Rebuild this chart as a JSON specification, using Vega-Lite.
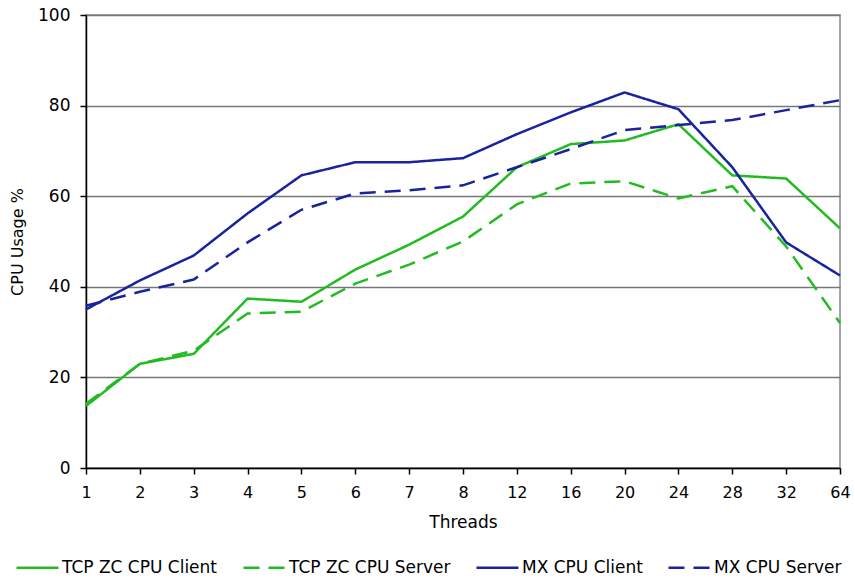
{
  "$schema": "https://vega.github.io/schema/vega-lite/v6.json",
  "autosize": {"type": "none"},
  "width": 754,
  "height": 453,
  "padding": {"left": 86, "top": 15, "right": 15, "bottom": 112},
  "background": "white",
  "config": {
    "font": "DejaVu Sans",
    "view": {"stroke": "#888888", "strokeWidth": 1.5}
  },
  "data": {
    "values": [
      {"t": "1", "s": "TCP ZC CPU Client", "v": 13.7},
      {"t": "2", "s": "TCP ZC CPU Client", "v": 23.0},
      {"t": "3", "s": "TCP ZC CPU Client", "v": 25.2},
      {"t": "4", "s": "TCP ZC CPU Client", "v": 37.4},
      {"t": "5", "s": "TCP ZC CPU Client", "v": 36.7},
      {"t": "6", "s": "TCP ZC CPU Client", "v": 43.8},
      {"t": "7", "s": "TCP ZC CPU Client", "v": 49.3},
      {"t": "8", "s": "TCP ZC CPU Client", "v": 55.5},
      {"t": "12", "s": "TCP ZC CPU Client", "v": 66.4},
      {"t": "16", "s": "TCP ZC CPU Client", "v": 71.5},
      {"t": "20", "s": "TCP ZC CPU Client", "v": 72.3},
      {"t": "24", "s": "TCP ZC CPU Client", "v": 75.9},
      {"t": "28", "s": "TCP ZC CPU Client", "v": 64.6},
      {"t": "32", "s": "TCP ZC CPU Client", "v": 63.9},
      {"t": "64", "s": "TCP ZC CPU Client", "v": 52.9},
      {"t": "1", "s": "TCP ZC CPU Server", "v": 14.2},
      {"t": "2", "s": "TCP ZC CPU Server", "v": 23.0},
      {"t": "3", "s": "TCP ZC CPU Server", "v": 25.9},
      {"t": "4", "s": "TCP ZC CPU Server", "v": 34.1},
      {"t": "5", "s": "TCP ZC CPU Server", "v": 34.5},
      {"t": "6", "s": "TCP ZC CPU Server", "v": 40.7},
      {"t": "7", "s": "TCP ZC CPU Server", "v": 44.9},
      {"t": "8", "s": "TCP ZC CPU Server", "v": 50.0},
      {"t": "12", "s": "TCP ZC CPU Server", "v": 58.2},
      {"t": "16", "s": "TCP ZC CPU Server", "v": 62.8},
      {"t": "20", "s": "TCP ZC CPU Server", "v": 63.3},
      {"t": "24", "s": "TCP ZC CPU Server", "v": 59.5},
      {"t": "28", "s": "TCP ZC CPU Server", "v": 62.2},
      {"t": "32", "s": "TCP ZC CPU Server", "v": 48.9},
      {"t": "64", "s": "TCP ZC CPU Server", "v": 32.0},
      {"t": "1", "s": "MX CPU Client", "v": 35.0},
      {"t": "2", "s": "MX CPU Client", "v": 41.4},
      {"t": "3", "s": "MX CPU Client", "v": 46.9},
      {"t": "4", "s": "MX CPU Client", "v": 56.2},
      {"t": "5", "s": "MX CPU Client", "v": 64.6},
      {"t": "6", "s": "MX CPU Client", "v": 67.5},
      {"t": "7", "s": "MX CPU Client", "v": 67.5},
      {"t": "8", "s": "MX CPU Client", "v": 68.4},
      {"t": "12", "s": "MX CPU Client", "v": 73.7},
      {"t": "16", "s": "MX CPU Client", "v": 78.5},
      {"t": "20", "s": "MX CPU Client", "v": 82.9},
      {"t": "24", "s": "MX CPU Client", "v": 79.2},
      {"t": "28", "s": "MX CPU Client", "v": 66.4},
      {"t": "32", "s": "MX CPU Client", "v": 49.8},
      {"t": "64", "s": "MX CPU Client", "v": 42.5},
      {"t": "1", "s": "MX CPU Server", "v": 35.8},
      {"t": "2", "s": "MX CPU Server", "v": 38.9},
      {"t": "3", "s": "MX CPU Server", "v": 41.6},
      {"t": "4", "s": "MX CPU Server", "v": 49.8},
      {"t": "5", "s": "MX CPU Server", "v": 57.0},
      {"t": "6", "s": "MX CPU Server", "v": 60.6},
      {"t": "7", "s": "MX CPU Server", "v": 61.3},
      {"t": "8", "s": "MX CPU Server", "v": 62.4},
      {"t": "12", "s": "MX CPU Server", "v": 66.4},
      {"t": "16", "s": "MX CPU Server", "v": 70.4},
      {"t": "20", "s": "MX CPU Server", "v": 74.6},
      {"t": "24", "s": "MX CPU Server", "v": 75.7},
      {"t": "28", "s": "MX CPU Server", "v": 76.8},
      {"t": "32", "s": "MX CPU Server", "v": 79.0},
      {"t": "64", "s": "MX CPU Server", "v": 81.2}
    ]
  },
  "mark": {"type": "line", "strokeWidth": 2.5},
  "encoding": {
    "x": {
      "field": "t", "type": "ordinal", "sort": null,
      "scale": {"type": "point", "padding": 0},
      "axis": {
        "title": "Threads", "titleFontSize": 17, "titleFontWeight": "normal", "titleColor": "black", "titlePadding": 14,
        "labelAngle": 0, "labelFontSize": 16, "labelColor": "black", "labelPadding": 10,
        "domainColor": "black", "domainWidth": 1.5, "tickColor": "black", "tickSize": 6, "tickWidth": 1.5,
        "grid": false
      }
    },
    "y": {
      "field": "v", "type": "quantitative",
      "scale": {"domain": [0, 100], "nice": false},
      "axis": {
        "title": "CPU Usage %", "titleFontSize": 16, "titleFontWeight": "normal", "titleColor": "black", "titlePadding": 12,
        "values": [0, 20, 40, 60, 80, 100],
        "labelFontSize": 17, "labelColor": "black", "labelPadding": 10,
        "domainColor": "black", "domainWidth": 1.5, "tickColor": "black", "tickSize": 6, "tickWidth": 1.5,
        "grid": true, "gridColor": "#777777", "gridWidth": 1.5
      }
    },
    "color": {
      "field": "s", "type": "nominal",
      "scale": {
        "domain": ["TCP ZC CPU Client", "TCP ZC CPU Server", "MX CPU Client", "MX CPU Server"],
        "range": ["#22bb22", "#22bb22", "#1a229e", "#1a229e"]
      },
      "legend": {
        "title": null, "orient": "none", "legendX": -71, "legendY": 530,
        "direction": "horizontal", "columns": 4,
        "symbolType": "stroke", "symbolSize": 1764, "symbolStrokeWidth": 2.5,
        "labelFontSize": 17, "labelColor": "black", "labelFont": "DejaVu Sans",
        "labelOffset": 2, "labelLimit": 300,
        "columnPadding": 20
      }
    },
    "strokeDash": {
      "field": "s", "type": "nominal",
      "scale": {
        "domain": ["TCP ZC CPU Client", "TCP ZC CPU Server", "MX CPU Client", "MX CPU Server"],
        "range": [[1, 0], [16, 9], [1, 0], [16, 9]]
      },
      "legend": null
    }
  }
}
